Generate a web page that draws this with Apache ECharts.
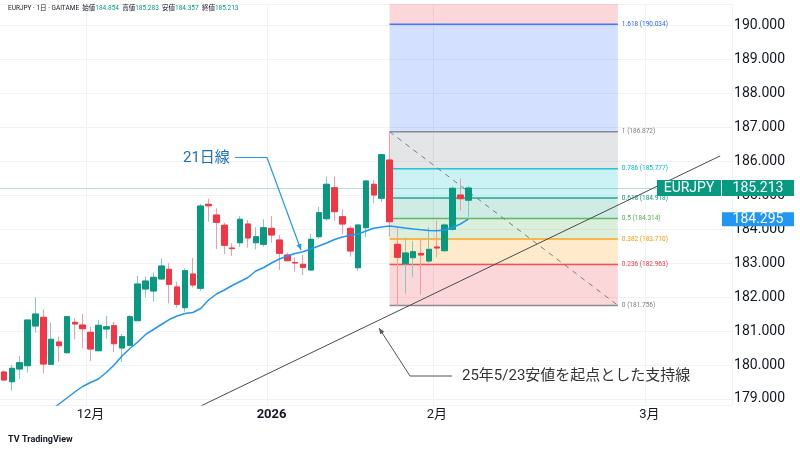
<!DOCTYPE html>
<html><head><meta charset="utf-8">
<script src="https://cdn.jsdelivr.net/npm/echarts@6/dist/echarts.min.js"></script>
<style>html,body{margin:0;padding:0;background:#fff;}#c{width:800px;height:450px;}</style>
</head><body><div id="c"></div>
<script>
const tradeDates = [
'2025-11-14','2025-11-17','2025-11-18','2025-11-19','2025-11-20','2025-11-21',
'2025-11-24','2025-11-25','2025-11-26','2025-11-27','2025-11-28',
'2025-12-01','2025-12-02','2025-12-03','2025-12-04','2025-12-05',
'2025-12-08','2025-12-09','2025-12-10','2025-12-11','2025-12-12',
'2025-12-15','2025-12-16','2025-12-17','2025-12-18','2025-12-19',
'2025-12-22','2025-12-23','2025-12-24','2025-12-25','2025-12-26',
'2025-12-29','2025-12-30','2025-12-31','2026-01-02',
'2026-01-05','2026-01-06','2026-01-07','2026-01-08','2026-01-09',
'2026-01-12','2026-01-13','2026-01-14','2026-01-15','2026-01-16',
'2026-01-19','2026-01-20','2026-01-21','2026-01-22','2026-01-23',
'2026-01-26','2026-01-27','2026-01-28','2026-01-29','2026-01-30',
'2026-02-02','2026-02-03','2026-02-04','2026-02-05','2026-02-06'];
const futureDates = [
'2026-02-07','2026-02-08','2026-02-09','2026-02-10','2026-02-11','2026-02-12','2026-02-13',
'2026-02-14','2026-02-15','2026-02-16','2026-02-17','2026-02-18','2026-02-19','2026-02-20',
'2026-02-21','2026-02-22','2026-02-23','2026-02-24','2026-02-25','2026-02-26','2026-02-27',
'2026-02-28','2026-03-01','2026-03-02','2026-03-03','2026-03-04','2026-03-05','2026-03-06',
'2026-03-07','2026-03-08','2026-03-09','2026-03-10','2026-03-11'];
const opens = [179.794,179.508,179.882,179.979,181.149,181.405,180.021,180.677,180.362,181.258,
181.178,180.963,180.421,181.060,181.158,180.501,180.580,181.305,182.239,182.180,
182.533,182.819,182.298,181.688,182.680,182.259,184.733,184.418,184.115,183.446,
183.602,184.153,183.602,183.555,184.026,183.682,183.240,183.019,182.966,182.798,
183.779,184.309,185.222,184.368,184.026,182.866,184.044,185.323,184.910,186.038,
183.555,182.984,183.161,183.284,183.063,183.476,183.367,183.997,185.007,184.854];
const highs = [179.840,180.000,180.265,181.330,181.994,181.641,181.246,180.834,181.440,181.393,
181.502,181.128,181.325,181.443,181.267,180.913,181.473,182.622,182.600,182.730,
183.143,182.996,182.454,182.848,183.152,184.742,184.898,184.616,184.191,183.585,
184.389,184.271,184.056,184.292,184.389,183.829,183.310,183.172,183.240,183.859,
184.663,185.546,185.546,184.586,184.094,184.130,185.449,185.449,186.200,186.872,
184.074,183.756,183.652,183.726,184.056,184.250,184.174,185.252,185.493,185.283];
const lows = [179.520,179.243,179.588,179.773,180.951,179.756,180.000,180.097,180.340,180.757,
180.510,180.118,180.400,180.775,180.383,180.088,180.560,181.300,181.994,181.865,
182.520,181.817,181.688,181.570,182.277,182.180,184.221,183.417,183.261,183.211,
183.485,183.455,183.408,183.485,183.602,182.798,183.060,182.748,182.651,182.780,
183.703,184.242,184.250,183.859,183.190,182.769,183.761,184.763,184.810,183.779,
181.756,182.100,182.583,182.077,183.013,183.172,183.337,183.956,184.551,184.357];
const closes = [179.558,179.903,180.068,181.325,181.502,180.029,180.757,180.569,181.423,181.208,
181.069,180.471,181.169,181.128,180.627,180.834,181.423,182.386,182.474,182.583,
182.916,182.377,181.788,182.778,182.356,184.683,184.690,184.203,183.526,183.428,
184.292,183.741,183.779,184.044,183.829,183.290,183.072,183.005,182.878,183.703,
184.486,185.323,184.516,184.153,183.358,184.124,185.420,185.007,186.194,184.221,
183.172,183.299,183.337,183.240,183.408,183.446,184.124,185.205,184.898,185.213];
const ma21 = [null,null,null,null,null,null,178.675,178.851,179.028,179.205,
179.367,179.485,179.588,179.779,180.000,180.265,180.486,180.677,180.899,181.046,
181.193,181.340,181.443,181.517,181.546,181.664,181.914,182.091,182.209,182.342,
182.460,182.577,182.769,182.872,183.004,183.122,183.210,183.284,183.334,183.417,
183.505,183.594,183.697,183.770,183.820,183.859,183.947,184.027,184.065,184.094,
184.065,184.035,184.006,183.982,183.962,183.956,183.976,184.050,184.153,184.295];
const monthLabelDates = ['2025-12-01','2026-01-02','2026-02-02','2026-03-01'];
const monthLabelTexts = ['12月','2026','2月','3月'];
const fibRatios = [0, 0.236, 0.382, 0.5, 0.618, 0.786, 1, 1.618, 2.618];
const fibPrices = [181.756, 182.963, 183.710, 184.314, 184.918, 185.777, 186.872, 190.034, 195.150];
const fibColors = ['#787b86','#f23645','#ff9800','#4caf50','#089981','#00bcd4','#787b86','#2962ff','#f23645'];
const fibStartDate = '2026-01-23';
const fibEndDate = '2026-02-25';
const supportLine = [['2025-12-19', 178.792], ['2026-03-10', 186.159]];
const headerLabels = ['始値','高値','安値','終値'];

const allDates = tradeDates.concat(futureDates);
const last = tradeDates.length - 1;
const wickData = tradeDates.map((d,i)=>[opens[i], closes[i], lows[i], highs[i]]);
const bodyData = tradeDates.map((d,i)=>[opens[i], closes[i], Math.min(opens[i],closes[i]), Math.max(opens[i],closes[i])]);
const fibStartIdx = allDates.indexOf(fibStartDate);
const fibEndIdx = allDates.indexOf(fibEndDate);

const FONT = 'Roboto, "Noto Sans CJK JP", sans-serif';
const chart = echarts.init(document.getElementById('c'));

chart.setOption({
  animation: false,
  backgroundColor: '#ffffff',
  grid: {left: 0, right: 68, top: 4, bottom: 45},
  xAxis: {
    type: 'category', data: allDates, boundaryGap: true,
    axisLine: {show: false}, axisTick: {show: false},
    axisLabel: {
      interval: (i, v) => monthLabelDates.includes(v),
      formatter: v => { const k = monthLabelDates.indexOf(v); const t = monthLabelTexts[k]; return k === 1 ? '{b|' + t + '}' : t; },
      color: '#131722', fontSize: 13, fontFamily: FONT, margin: 3,
      rich: {b: {fontWeight: 'bold', fontSize: 13, color: '#131722', fontFamily: FONT}}
    },
    splitLine: {show: true, interval: (i, v) => monthLabelDates.includes(v), lineStyle: {color: '#f0f2f5', width: 1}}
  },
  yAxis: {
    type: 'value', position: 'right', min: 178.822, max: 190.633, splitNumber: 12, scale: true,
    axisLine: {show: false}, axisTick: {show: false},
    axisLabel: {formatter: v => v.toFixed(3), color: '#131722', fontSize: 14, fontFamily: FONT,
      align: 'right', margin: 53, showMinLabel: false, showMaxLabel: false},
    splitLine: {show: true, lineStyle: {color: '#f0f2f5', width: 1}}
  },
  series: [
    {
      type: 'custom', name: 'fib', z: 1, clip: false, silent: true,
      data: fibPrices.map(p => [fibStartIdx, p]),
      renderItem: (params, api) => {
        const i = params.dataIndex;
        const cs = params.coordSys;
        const top = cs.y, bot = cs.y + cs.height;
        const x0 = api.coord([fibStartIdx, fibPrices[i]])[0];
        const x1 = api.coord([fibEndIdx, fibPrices[i]])[0];
        const y = api.coord([fibStartIdx, fibPrices[i]])[1];
        const children = [];
        if (i < fibPrices.length - 1) {
          const yn = api.coord([fibStartIdx, fibPrices[i+1]])[1];
          const ya = Math.max(top, Math.min(y, yn)), yb = Math.min(bot, Math.max(y, yn));
          if (yb > ya) children.push({type: 'rect', shape: {x: x0, y: ya, width: x1 - x0, height: yb - ya},
            style: {fill: fibColors[i+1], opacity: 0.2}});
        }
        if (y >= top && y <= bot) {
          children.push({type: 'line', shape: {x1: x0, y1: y, x2: x1, y2: y},
            style: {stroke: fibColors[i], lineWidth: 1.5, opacity: 0.85}});
          children.push({type: 'text', x: x1 + 4, y: y,
            style: {text: fibRatios[i] + ' (' + fibPrices[i].toFixed(3) + ')', fill: fibColors[i],
              fontSize: 6.5, fontFamily: FONT, align: 'left', verticalAlign: 'middle'}});
        }
        return {type: 'group', children};
      }
    },
    {
      type: 'line', name: 'fibTrend', data: [[fibStartDate, fibPrices[6]], [fibEndDate, fibPrices[0]]],
      symbol: 'none', z: 2, silent: true,
      lineStyle: {color: '#787b86', width: 1, type: [5, 5]}
    },
    {
      type: 'candlestick', name: 'wick', data: wickData, barWidth: 6, z: 3, silent: true,
      itemStyle: {color: '#83ccc0', color0: '#f89aa2', borderColor: '#83ccc0', borderColor0: '#f89aa2', borderWidth: 1},
      markLine: {symbol: 'none', silent: true, label: {show: false},
        lineStyle: {color: 'rgba(8,153,129,0.3)', type: 'solid', width: 1},
        data: [{yAxis: closes[last]}]}
    },
    {
      type: 'candlestick', name: 'EURJPY', data: bodyData, barWidth: 6, z: 4, silent: true,
      itemStyle: {color: '#089981', color0: '#f23645', borderColor: '#089981', borderColor0: '#f23645', borderWidth: 1}
    },
    {
      type: 'line', name: 'MA21', data: ma21, symbol: 'none', z: 5, silent: true,
      lineStyle: {color: '#2196f3', width: 1.5}
    },
    {
      type: 'line', name: 'support', data: supportLine, symbol: 'none', z: 6, silent: true,
      lineStyle: {color: '#4a4a4a', width: 1}
    }
  ]
});

function arrowHead(p0, p1, color, len, half) {
  const dx = p1[0]-p0[0], dy = p1[1]-p0[1];
  const L = Math.sqrt(dx*dx+dy*dy); const ux = dx/L, uy = dy/L;
  const bx = p1[0]-ux*len, by = p1[1]-uy*len;
  return {type: 'polygon', z: 110, shape: {points: [[p1[0],p1[1]],[bx - uy*half, by + ux*half],[bx + uy*half, by - ux*half]]},
    style: {fill: color}};
}

const yClose = chart.convertToPixel({yAxisIndex: 0}, closes[last]);
const yMA = chart.convertToPixel({yAxisIndex: 0}, ma21[last]);
const head = '{l|EURJPY · 1日 · GAITAME}' + headerLabels.map((l, k) =>
  '{l|  ' + l + '}{v|' + [opens[last], highs[last], lows[last], closes[last]][k].toFixed(3) + '}').join('');

const maArrow = [[235,157.5],[267,157.5],[301,250]];
const supArrow = [[452,376],[410,376],[379,328]];

chart.setOption({
  graphic: [
    {type: 'text', left: 8, top: 5, z: 120, style: {text: head, rich: {
      l: {fontSize: 6.5, fill: '#131722', fontFamily: FONT},
      v: {fontSize: 6.5, fill: '#089981', fontFamily: FONT}}}},
    {type: 'rect', z: 100, shape: {x: 657, y: yClose - 8, width: 64, height: 16}, style: {fill: '#089981'}},
    {type: 'text', z: 101, x: 689, y: yClose, style: {text: 'EURJPY', fill: '#ffffff', fontSize: 14, fontFamily: FONT, align: 'center', verticalAlign: 'middle'}},
    {type: 'rect', z: 100, shape: {x: 722, y: yClose - 8, width: 72, height: 16}, style: {fill: '#089981'}},
    {type: 'text', z: 101, x: 758, y: yClose, style: {text: closes[last].toFixed(3), fill: '#ffffff', fontSize: 14, fontFamily: FONT, align: 'center', verticalAlign: 'middle'}},
    {type: 'rect', z: 100, shape: {x: 722, y: yMA - 7, width: 72, height: 14}, style: {fill: '#2196f3'}},
    {type: 'text', z: 101, x: 758, y: yMA, style: {text: ma21[last].toFixed(3), fill: '#ffffff', fontSize: 14, fontFamily: FONT, align: 'center', verticalAlign: 'middle'}},
    {type: 'text', z: 110, x: 183, y: 158, style: {text: '21日線', fill: '#1a6fc4', fontSize: 15, fontFamily: FONT, align: 'left', verticalAlign: 'middle'}},
    {type: 'polyline', z: 110, shape: {points: maArrow}, style: {stroke: '#2196f3', lineWidth: 1.2, fill: null}},
    arrowHead(maArrow[1], maArrow[2], '#2196f3', 6, 2.6),
    {type: 'text', z: 110, x: 462, y: 376, style: {text: '25年5/23安値を起点とした支持線', fill: '#333333', fontSize: 15, fontFamily: FONT, align: 'left', verticalAlign: 'middle'}},
    {type: 'polyline', z: 110, shape: {points: supArrow}, style: {stroke: '#555555', lineWidth: 1, fill: null}},
    arrowHead(supArrow[1], supArrow[2], '#555555', 6, 2.4),
    {type: 'text', z: 110, x: 8, y: 440, style: {text: 'TV', fill: '#131722', fontSize: 9, fontWeight: 'bold', fontFamily: FONT, verticalAlign: 'middle'}},
    {type: 'text', z: 110, x: 22, y: 440, style: {text: 'TradingView', fill: '#131722', fontSize: 9, fontWeight: 'bold', fontFamily: FONT, verticalAlign: 'middle'}}
  ]
});
</script></body></html>
